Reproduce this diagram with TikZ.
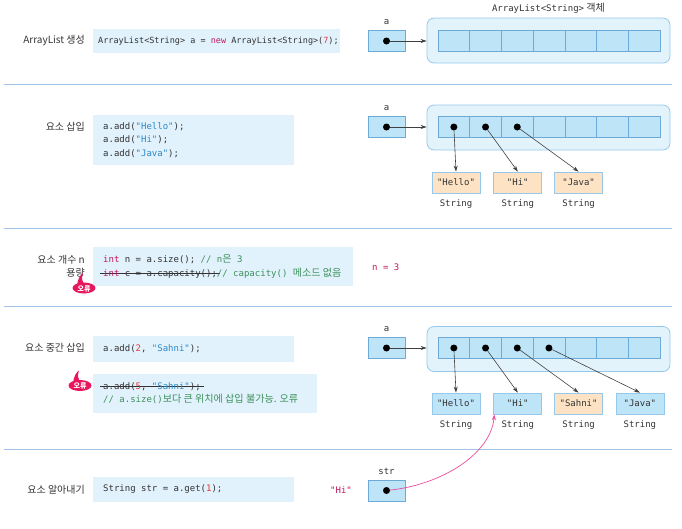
\documentclass[tikz,border=0pt]{standalone}
\usepackage{fontspec}
\setmainfont{Noto Sans CJK KR}
\setmonofont{DejaVu Sans Mono}
\newfontfamily\krfont[Scale=1.12]{Noto Sans CJK KR}
\usetikzlibrary{arrows.meta,positioning}

\definecolor{codebg}{HTML}{E1F2FC}
\definecolor{objfill}{HTML}{E3F3FC}
\definecolor{objline}{HTML}{96C8EB}
\definecolor{cellfill}{HTML}{BEE4F8}
\definecolor{cellline}{HTML}{6EAAD7}
\definecolor{strfill}{HTML}{FDE3C4}
\definecolor{sepline}{HTML}{A0C3E6}
\definecolor{txtgray}{HTML}{333333}
\definecolor{kwmag}{HTML}{C2185B}
\definecolor{numred}{HTML}{E53935}
\definecolor{litblue}{HTML}{2B88C8}
\definecolor{cmtgreen}{HTML}{3C8F5A}
\definecolor{hipink}{HTML}{EC4C9B}
\definecolor{errred}{HTML}{E8175D}

\newcommand\cfont{\ttfamily\fontsize{9}{13.3}\selectfont}
\newcommand\kw[1]{\textcolor{kwmag}{#1}}
\newcommand\nm[1]{\textcolor{numred}{#1}}
\newcommand\lit[1]{\textcolor{litblue}{#1}}
\newcommand\cmt[1]{\textcolor{cmtgreen}{#1}}
\newcommand\kr[1]{{\krfont #1}}
\newcommand\strk[1]{\setbox0\hbox{#1}\rlap{\kern-3pt\rule[0.3em]{\dimexpr\wd0+6pt\relax}{0.6pt}}\box0}

\tikzset{
  lbl/.style={font=\fontsize{10}{13}\selectfont, text=txtgray, align=right, anchor=east, inner sep=0pt},
  bgbox/.style={fill=codebg, anchor=west, inner sep=0pt},
  code/.style={font=\cfont, text=txtgray, align=left, anchor=west, inner sep=0pt},
  ptr/.style={draw=cellline, fill=cellfill, line width=.6pt, minimum width=37pt, minimum height=21pt, inner sep=0pt},
  cell/.style={draw=cellline, fill=cellfill, line width=.5pt, minimum width=31.7pt, minimum height=21pt, inner sep=0pt},
  obj/.style={draw=objline, fill=objfill, line width=.8pt, rounded corners=7pt, minimum width=243pt, minimum height=45pt, inner sep=0pt},
  bullet/.style={circle, fill=black, minimum size=7pt, inner sep=0pt},
  strbox/.style={draw=objline, line width=.8pt, minimum width=48pt, minimum height=21pt, inner sep=0pt, font=\cfont, text=txtgray},
  typ/.style={font=\cfont, text=txtgray, inner sep=0pt},
  vname/.style={font=\cfont, text=txtgray, inner sep=0pt, text depth=0pt},
  link/.style={-{Stealth[length=6pt,width=4pt]}, draw=black!75, line width=.6pt},
  hiarrow/.style={-{Stealth[length=6pt,width=4pt]}, draw=hipink, line width=.7pt},
  divider/.style={draw=sepline, line width=.8pt},
  errtag/.pic={
    \fill[errred] (0,0) ellipse (11.5pt and 5.5pt);
    \fill[errred] (-7,-3) .. controls (-6,-9) and (-4,-13) .. (-1,-15) .. controls (-3,-10) and (-2,-6) .. (1,-4) -- cycle;
    \node[font=\fontsize{7}{7}\selectfont\bfseries, text=white, inner sep=0pt] at (0,0.5) {오류};
  }
}

\begin{document}
\begin{tikzpicture}[x=1pt,y=-1pt]
\def\cw{31.7}
\useasboundingbox (0,0) rectangle (682,528);

% ArrayList 생성
\node[lbl] (l1) at (85,41) {ArrayList 생성};
\node[bgbox, minimum width=247pt, minimum height=24pt] (b1) at (93,41) {};
\node[code, font=\ttfamily\fontsize{8.5}{13}\selectfont, right=5pt of b1.west] (k1) {ArrayList<String> a = \kw{new} ArrayList<String>(\nm{7});};
\node[ptr] (p1) at (386.5,41) {};
\node[bullet] (d1) at (p1) {};
\node[vname, above=5.5pt of p1] {a};
\node[obj] (o1) at (548.5,40.5) {};
\foreach \i in {1,...,7}
  \node[cell] (c1-\i) at ({438+\cw*(\i-0.5)},41) {};
\node[vname, above=6pt of o1] {ArrayList<String>\kr{ 객체}};
\draw[link] (d1) -- (d1 -| o1.west);

\draw[divider] (4,84) -- (672,84);

% 요소 삽입
\node[lbl] (l2) at (85,127) {요소 삽입};
\node[bgbox, minimum width=201pt, minimum height=50pt] (b2) at (93,140) {};
\node[code, right=10pt of b2.west] (k2) {a.add(\lit{"Hello"});\\a.add(\lit{"Hi"});\\a.add(\lit{"Java"});};
\node[ptr] (p2) at (386.5,127) {};
\node[bullet] (d2) at (p2) {};
\node[vname, above=5.5pt of p2] {a};
\node[obj] (o2) at (548.5,127.5) {};
\foreach \i in {1,...,7}
  \node[cell] (c2-\i) at ({438+\cw*(\i-0.5)},127) {};
\draw[link] (d2) -- (d2 -| o2.west);
\node[strbox, fill=strfill] (s2-1) at (456,182.5) {"Hello"};
\node[strbox, fill=strfill, right=13pt of s2-1] (s2-2) {"Hi"};
\node[strbox, fill=strfill, right=12pt of s2-2] (s2-3) {"Java"};
\foreach \i in {1,2,3} {
  \node[bullet] (e2-\i) at (c2-\i) {};
  \node[typ, below=6.5pt of s2-\i] {String};
  \draw[link] (e2-\i) -- (s2-\i.north);
}

\draw[divider] (4,228) -- (672,228);

% 요소 개수, 용량
\node[lbl] (l3) at (85,266.5) {요소 개수 n\\용량};
\node[bgbox, minimum width=260pt, minimum height=39pt] (b3) at (93,266.5) {};
\node[code, right=10pt of b3.west] (k3) {\kw{int} n = a.size(); \cmt{// n\kr{은} 3}\\\strk{\kw{int} c = a.capacity();} \cmt{// capacity() \kr{메소드 없음}}};
\pic at (84,288) {errtag};
\node[code, text=kwmag] (n3) at (372,267) {n = 3};

\draw[divider] (4,306) -- (672,306);

% 요소 중간 삽입
\node[lbl] (l4) at (85,348) {요소 중간 삽입};
\node[bgbox, minimum width=201pt, minimum height=26pt] (b4) at (93,349) {};
\node[code, right=10pt of b4.west] (k4) {a.add(\nm{2}, \lit{"Sahni"});};
\node[bgbox, minimum width=224pt, minimum height=39pt] (b5) at (93,393.5) {};
\node[code, right=10pt of b5.west] (k5) {\strk{a.add(\nm{5}, \lit{"Sahni"});}\\\cmt{// a.size()\kr{보다 큰 위치에 삽입 불가능. 오류}}};
\pic at (80,385.5) {errtag};
\node[ptr] (p4) at (386.5,348) {};
\node[bullet] (d4) at (p4) {};
\node[vname, above=5.5pt of p4] {a};
\node[obj] (o4) at (548.5,349) {};
\foreach \i in {1,...,7}
  \node[cell] (c4-\i) at ({438+\cw*(\i-0.5)},348) {};
\draw[link] (d4) -- (d4 -| o4.west);
\node[strbox, fill=cellfill] (s4-1) at (456,403.5) {"Hello"};
\node[strbox, fill=cellfill, right=13pt of s4-1] (s4-2) {"Hi"};
\node[strbox, fill=strfill, right=12pt of s4-2] (s4-3) {"Sahni"};
\node[strbox, fill=cellfill, right=12.5pt of s4-3] (s4-4) {"Java"};
\foreach \i in {1,...,4} {
  \node[bullet] (e4-\i) at (c4-\i) {};
  \node[typ, below=6.5pt of s4-\i] {String};
  \draw[link] (e4-\i) -- (s4-\i.north);
}

\draw[divider] (4,449) -- (672,449);

% 요소 알아내기
\node[lbl] (l6) at (85,490) {요소 알아내기};
\node[bgbox, minimum width=201pt, minimum height=25pt] (b6) at (93,489.5) {};
\node[code, right=10pt of b6.west] (k6) {String str = a.get(\nm{1});};
\node[code, text=kwmag] (h6) at (330,490) {"Hi"};
\node[ptr] (p6) at (386.5,490.5) {};
\node[bullet] (d6) at (p6) {};
\node[vname, above=5pt of p6] {str};
\draw[hiarrow] (d6) .. controls +(55,-6) and +(-4,40) .. ([xshift=1pt]s4-2.south west);
\end{tikzpicture}
\end{document}
